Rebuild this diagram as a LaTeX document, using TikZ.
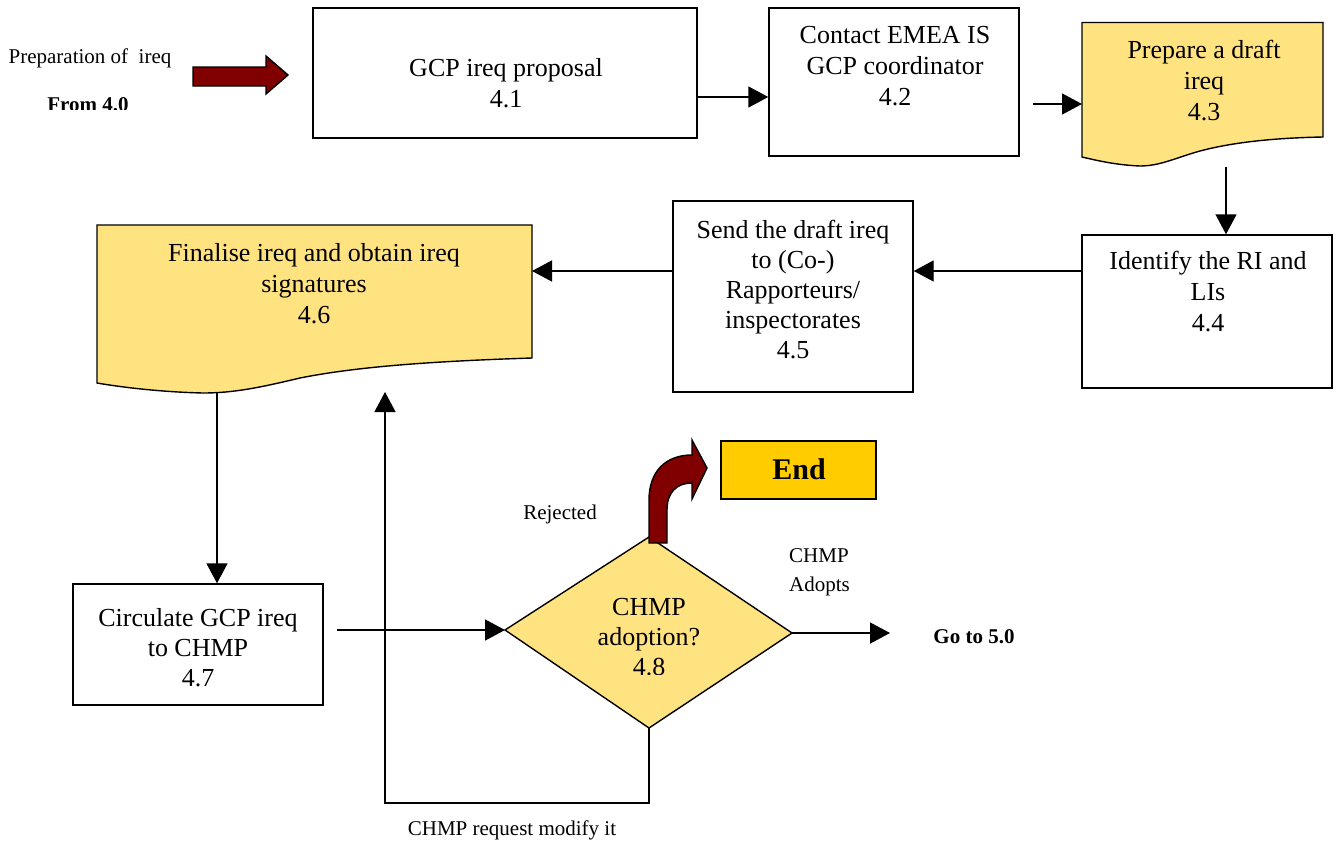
\documentclass[tikz,border=0pt]{standalone}
\usepackage{fontspec}
\setmainfont{Liberation Serif}
\usetikzlibrary{arrows.meta}
\definecolor{docyel}{HTML}{FFE380}
\definecolor{endyel}{HTML}{FFCC00}
\definecolor{darkred}{HTML}{800000}
\tikzset{
  box/.style={draw=black, line width=1.4pt, fill=white, inner sep=0pt},
  docbox/.style={draw=black, line width=1.4pt, fill=docyel},
  holder/.style={inner sep=0pt, outer sep=0pt},
  txt/.style={align=center, inner sep=0pt, font=\fontsize{26}{31}\selectfont},
  txtb/.style={align=center, inner sep=0pt, font=\fontsize{26}{30}\selectfont},
  small/.style={align=center, inner sep=0pt, font=\fontsize{21}{29}\selectfont},
  smallbold/.style={inner sep=0pt, font=\fontsize{21}{25}\selectfont\bfseries},
  conn/.style={-{Triangle[length=20pt,width=21pt]}, line width=1.4pt},
  plain/.style={line width=1.4pt},
  blockarrow/.style={draw=black, line width=1.4pt, fill=darkred, line join=miter}
}
\begin{document}
\begin{tikzpicture}[x=1pt,y=-1pt]
\useasboundingbox (0,0) rectangle (1337,843);

% left labels and block arrow
\node[small] (prep) at (90,58) {Preparation of~ ireq};
\begin{scope}
  \clip (0,80) rectangle (200,109);
  \node[smallbold, anchor=base] (from) at (88,111) {From 4.0};
\end{scope}
\draw[blockarrow] (193,67) -- (266,67) -- (266,56) -- (288,75) -- (266,94) -- (266,86) -- (193,86) -- cycle;

% box 4.1
\node[box, minimum width=384, minimum height=130] (n41) at (505,73) {};
\node[txt] (t41) at (506,83.5) {GCP ireq proposal\\4.1};
% box 4.2
\node[box, minimum width=250, minimum height=148] (n42) at (894,82) {};
\node[txt] (t42) at (895,66.5) {Contact EMEA IS\\GCP coordinator\\4.2};
% doc 4.3
\node[holder, minimum width=241, minimum height=144, anchor=north west] (n43) at (1082,22.5) {};
\draw[docbox] (1082,22.5) -- (1323,22.5) -- (1323,137)
  .. controls (1270,138) and (1230,143) .. (1200,151)
  .. controls (1175,158) and (1160,166) .. (1140,166)
  .. controls (1115,165) and (1095,160) .. (1082,157) -- cycle;
\node[txt] (t43) at (1204,81) {Prepare a draft\\ireq\\4.3};
% box 4.4
\node[box, minimum width=250, minimum height=153] (n44) at (1207,311.5) {};
\node[txt] (t44) at (1208,291.5) {Identify the RI and\\LIs\\4.4};
% box 4.5
\node[box, minimum width=240, minimum height=191] (n45) at (793,296.5) {};
\node[txtb] (t45) at (793,289.5) {Send the draft ireq\\to (Co-)\\Rapporteurs/\\inspectorates\\4.5};
% doc 4.6
\node[holder, minimum width=435, minimum height=168, anchor=north west] (n46) at (97,225) {};
\draw[docbox] (97,225) -- (532,225) -- (532,358)
  .. controls (440,361) and (360,366) .. (300,378)
  .. controls (262,387) and (235,393) .. (203,393)
  .. controls (160,392) and (120,387) .. (97,383) -- cycle;
\node[txt] (t46) at (314,284) {Finalise ireq and obtain ireq\\signatures\\4.6};
% box 4.7
\node[box, minimum width=250, minimum height=121] (n47) at (198,644.5) {};
\node[txtb] (t47) at (198,647.5) {Circulate GCP ireq\\to CHMP\\4.7};
% diamond 4.8
\coordinate (dl) at (505,630);
\coordinate (dt) at (649,537);
\coordinate (dr) at (792,633);
\coordinate (db) at (649,728);
\draw[docbox] (dl) -- (dt) -- (dr) -- (db) -- cycle;
\begin{scope}
  \clip (540,580) rectangle (760,674);
  \node[txtb] (t48) at (649,637.5) {CHMP\\adoption?\\4.8};
\end{scope}
% End
\node[draw=black, line width=1.4pt, fill=endyel, minimum width=155, minimum height=58] (endb) at (798.5,470) {};
\node[inner sep=0pt, font=\fontsize{30}{34}\selectfont\bfseries] (endt) at (799,469) {End};
% rejected curved arrow
\draw[blockarrow] (649,543) -- (649,500) .. controls (649,472) and (665,455) .. (692,455)
  -- (692,440) -- (707,468) -- (692,499) -- (692,483)
  .. controls (677,483) and (667,492) .. (667,510) -- (667,543) -- cycle;
\node[small] (rej) at (560,514) {Rejected};
\node[small, align=left, anchor=west, font=\fontsize{21}{29}\selectfont] (adopt) at (789,572.5) {CHMP\\Adopts};
\node[smallbold] (go) at (974,637) {Go to 5.0};
\node[small] (modify) at (512,830) {CHMP request modify it};

% connectors
\coordinate (c42s) at (1033,104);
\coordinate (c43b) at (1226,167);
\coordinate (c46b) at (217,393);
\coordinate (c47e) at (337,630);
\coordinate (c50) at (890,633);
\coordinate (lp1) at (649,803);
\coordinate (lp2) at (385,803);
\coordinate (lp3) at (385,392);
\draw[conn] (n41.east |- 0,97) -- (n42.west |- 0,97);
\draw[conn] (c42s) -- (n43.west |- c42s);
\draw[conn] (c43b) -- (n44.north -| c43b);
\draw[conn] (n44.west |- 0,271) -- (n45.east |- 0,271);
\draw[conn] (n45.west |- 0,271) -- (n46.east |- 0,271);
\draw[conn] (c46b) -- (n47.north -| c46b);
\draw[conn] (c47e) -- (dl);
\draw[conn] (dr) -- (c50);
\draw[conn] (db) -- (lp1) -- (lp2) -- (lp3);
\end{tikzpicture}
\end{document}
